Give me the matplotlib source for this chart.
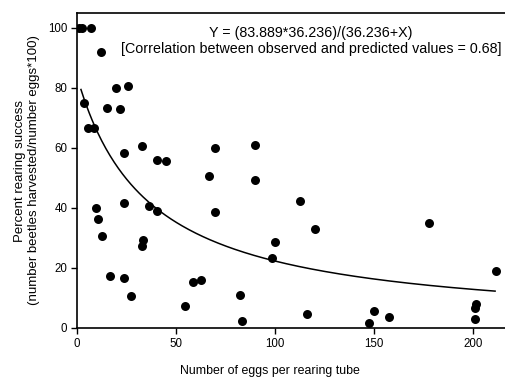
import numpy as np
import matplotlib
matplotlib.use("Agg")
import matplotlib.pyplot as plt

plt.rcParams['font.family'] = ['Liberation Sans', 'DejaVu Sans']

# observed rearing success
eggs = [1, 2.5, 7, 12, 19.7, 25.9, 3.5, 15, 21.7, 5.7, 8.7, 23.9, 32.7, 40.6, 44.8,
        66.7, 69.7, 89.9, 89.6, 9.6, 10.8, 12.8, 23.7, 36.5, 40.6, 69.4, 33.5, 32.7,
        16.7, 23.7, 27.3, 54.5, 58.4, 62.5, 82.3, 83.2, 98.3, 100, 112.3, 120.2,
        177.4, 211.4, 116.3, 149.7, 147.5, 157.7, 201.4, 201, 201]
success = [100, 100, 100, 92, 80, 80.7, 75.1, 73.4, 72.9, 66.8, 66.8, 58.4, 60.7, 56, 55.7,
           50.8, 60.1, 61, 49.3, 40.1, 36.3, 30.8, 41.6, 40.7, 39, 38.6, 29.3, 27.3,
           17.4, 16.8, 10.8, 7.4, 15.4, 16, 11, 2.4, 23.4, 28.8, 42.4, 33,
           35.1, 19, 4.6, 5.7, 1.6, 3.6, 7.9, 6.6, 3]

# fitted model Y = a*b/(b+X)
a_fit = 83.889
b_fit = 36.236
x_fit = np.linspace(2, 211, 300)
y_fit = a_fit * b_fit / (b_fit + x_fit)

fig = plt.figure(figsize=(5.05, 3.79), dpi=100)
ax = fig.add_axes([77 / 505, 51 / 379, 1 - 77 / 505, (328 - 13) / 379])

ax.scatter(eggs, success, s=42, color="black", zorder=3, linewidths=0)
ax.plot(x_fit, y_fit, color="black", linewidth=1.1)

ax.set_xlim(0, 216)
ax.set_ylim(0, 105)
ax.set_xticks([0, 50, 100, 150, 200])
ax.set_yticks([0, 20, 40, 60, 80, 100])
ax.tick_params(direction="out", length=4, width=1, labelsize=8.3, pad=3)

ax.spines["right"].set_visible(False)
for side in ["left", "bottom", "top"]:
    ax.spines[side].set_linewidth(1.2)

ax.text(0.547, 0.935, "Y = (83.889*36.236)/(36.236+X)", transform=ax.transAxes,
        ha="center", va="center", fontsize=10.3)
ax.text(0.547, 0.885, "[Correlation between observed and predicted values = 0.68]",
        transform=ax.transAxes, ha="center", va="center", fontsize=10.3)

ax.set_xlabel("Number of eggs per rearing tube", fontsize=8.9)
ax.xaxis.set_label_coords(0.45, -0.118)
ax.set_ylabel("Percent rearing success\n(number beetles harvested/number eggs*100)",
              fontsize=9.5, labelpad=6)

plt.savefig("out.png", dpi=100)
plt.close()
